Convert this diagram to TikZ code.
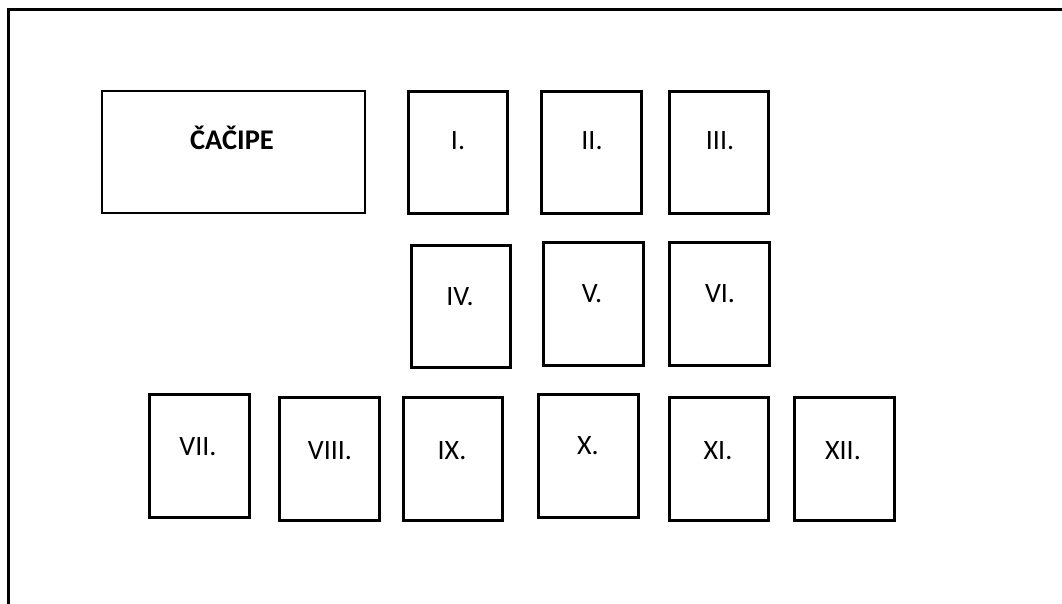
\documentclass[tikz,border=0pt]{standalone}
\usepackage{fontspec}
\setmainfont{Carlito}
\begin{document}
\begin{tikzpicture}[x=1pt,y=-1pt,
  box/.style={draw=black,line width=2.8pt,inner sep=0pt,minimum width=99.5pt,minimum height=122.5pt},
  lab/.style={anchor=base,inner sep=0pt,font=\fontsize{28}{32}\selectfont}]
\useasboundingbox (0,0) rectangle (1062,604);
\coordinate (fbl) at (8.5,604);
\coordinate (ftl) at (8.5,10);
\coordinate (ftr) at (1062,10);
\draw[line width=3pt] (fbl) -- (ftl) -- (ftr);
% boxes
\node[box,minimum width=263pt,minimum height=122pt] (c) at (233.5,152) {};
\node[box] (b1) at (458,152.5) {};
\node[box] (b2) at (591.5,152.5) {};
\node[box] (b3) at (719,152.5) {};
\node[box] (b4) at (461,306.5) {};
\node[box] (b5) at (593.5,304) {};
\node[box] (b6) at (719.5,304) {};
\node[box] (b7) at (199.5,456) {};
\node[box] (b8) at (329.5,459) {};
\node[box] (b9) at (453,459) {};
\node[box] (b10) at (588.5,456) {};
\node[box] (b11) at (719,459) {};
\node[box] (b12) at (844.5,459) {};
% labels
\node[lab,font=\fontsize{28.5}{32}\selectfont\bfseries] (tc) at (232,150) {ČAČIPE};
\node[lab] (t1) at (458,150) {I.};
\node[lab] (t2) at (592,150) {II.};
\node[lab] (t3) at (720,150) {III.};
\node[lab] (t4) at (460,305) {IV.};
\node[lab] (t5) at (592,302) {V.};
\node[lab] (t6) at (720,302) {VI.};
\node[lab] (t7) at (198,455) {VII.};
\node[lab] (t8) at (330,459) {VIII.};
\node[lab] (t9) at (452,459) {IX.};
\node[lab] (t10) at (588,454) {X.};
\node[lab] (t11) at (718,459) {XI.};
\node[lab] (t12) at (843,459) {XII.};
\end{tikzpicture}
\end{document}
